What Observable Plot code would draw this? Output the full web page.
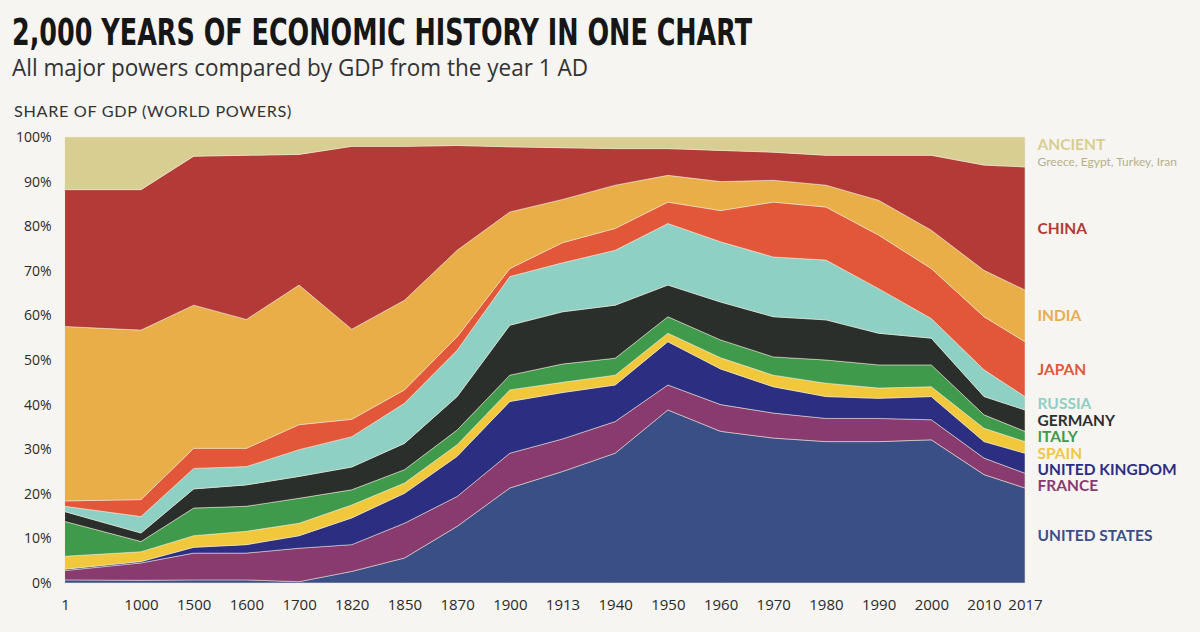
<!DOCTYPE html>
<html>
<head>
<meta charset="utf-8">
<script src="https://cdn.jsdelivr.net/npm/d3@7"></script>
<script src="https://cdn.jsdelivr.net/npm/@observablehq/plot@0.6"></script>
<style>
  html, body { margin: 0; padding: 0; background: #f6f5f1; width: 1200px; height: 632px; overflow: hidden; }
  #header { position: relative; height: 125px; }
  #title { position: absolute; left: 12px; top: 17px; font-family: "Liberation Sans Narrow", "DejaVu Sans Condensed", "Liberation Sans", sans-serif; font-weight: bold; font-size: 37px; line-height: 32px; color: #161616; white-space: nowrap; transform-origin: 0 0; }
  #subtitle { position: absolute; left: 12px; top: 57px; font-family: "Open Sans", sans-serif; font-size: 23px; line-height: 21px; color: #333; white-space: nowrap; transform-origin: 0 0; }
  #ylabel { position: absolute; left: 14px; top: 104px; font-family: Lato, "Open Sans", sans-serif; font-size: 15px; line-height: 15px; letter-spacing: 0.6px; color: #333; white-space: nowrap; transform-origin: 0 0; }
  #chart svg { display: block; }
</style>
</head>
<body>
<div id="header">
  <div id="title">2,000 YEARS OF ECONOMIC HISTORY IN ONE CHART</div>
  <div id="subtitle">All major powers compared by GDP from the year 1 AD</div>
  <div id="ylabel">SHARE OF GDP (WORLD POWERS)</div>
</div>
<div id="chart"></div>
<script>
// ---- data (share of world-power GDP, %) ----
const years = [1, 1000, 1500, 1600, 1700, 1820, 1850, 1870, 1900, 1913, 1940, 1950, 1960, 1970, 1980, 1990, 2000, 2010, 2017];
const countries = ["United States", "France", "United Kingdom", "Spain", "Italy", "Germany", "Russia", "Japan", "India", "China", "Ancient"];
const unitedStates  = [0.7, 0.6, 0.7, 0.7, 0.3, 2.6, 5.6, 12.7, 21.3, 25.0, 29.1, 38.8, 34.0, 32.5, 31.7, 31.7, 32.1, 24.3, 21.3];
const france        = [2.1, 3.9, 6.0, 6.0, 7.5, 6.0, 7.8, 6.7, 7.8, 7.3, 7.1, 5.6, 6.0, 5.6, 5.2, 5.2, 4.5, 3.7, 3.3];
const unitedKingdom = [0.3, 0.3, 1.3, 1.9, 2.8, 6.0, 6.7, 9.0, 11.6, 10.4, 8.2, 9.7, 8.0, 5.9, 4.9, 4.5, 5.2, 3.7, 4.5];
const spain         = [2.9, 2.2, 2.6, 3.0, 2.8, 2.9, 2.3, 2.6, 2.6, 2.3, 2.2, 1.9, 2.5, 2.6, 3.0, 2.3, 2.2, 3.0, 2.6];
const italy         = [7.8, 2.3, 6.2, 5.6, 5.6, 3.4, 3.0, 3.3, 3.3, 4.1, 3.8, 3.7, 4.0, 4.1, 5.2, 5.2, 4.9, 3.0, 2.3];
const germany       = [2.2, 1.9, 4.3, 4.8, 4.9, 5.1, 5.9, 7.5, 11.2, 11.7, 11.9, 7.1, 8.5, 9.0, 9.0, 7.1, 6.0, 4.1, 4.8];
const russia        = [1.2, 3.7, 4.6, 4.1, 6.0, 6.8, 9.0, 10.4, 10.9, 11.0, 12.3, 13.8, 13.5, 13.4, 13.4, 10.0, 4.4, 6.0, 3.0];
const japan         = [1.2, 3.8, 4.5, 4.1, 5.6, 3.9, 3.0, 3.0, 1.8, 4.5, 4.9, 4.8, 7.0, 12.3, 11.9, 12.0, 11.2, 11.9, 12.3];
const india         = [39.1, 38.0, 32.1, 28.9, 31.3, 20.2, 20.1, 19.4, 12.7, 9.7, 9.7, 6.0, 6.5, 4.9, 4.9, 7.8, 8.6, 10.4, 11.6];
const china         = [30.7, 31.5, 33.4, 36.8, 29.3, 41.0, 34.5, 23.5, 14.6, 11.6, 8.2, 6.0, 7.0, 6.3, 6.7, 10.1, 16.8, 23.6, 27.6];
const ancient       = [11.8, 11.8, 4.3, 4.1, 3.9, 2.1, 2.1, 1.9, 2.2, 2.4, 2.6, 2.6, 3.0, 3.4, 4.1, 4.1, 4.1, 6.3, 6.7];
const ancientNote = "Greece, Egypt, Turkey, Iran";
const yTicks = [0, 10, 20, 30, 40, 50, 60, 70, 80, 90, 100];

// ---- build long table ----
const series = [unitedStates, france, unitedKingdom, spain, italy, germany, russia, japan, india, china, ancient];
const table = [];
countries.forEach((c, k) => series[k].forEach((v, i) => table.push({country: c, i, year: years[i], share: v})));

// ---- end labels: band midpoints at last year, pushed apart top-down ----
const last = years.length - 1;
let cum = 0;
const mids = series.map(s => { const lo = cum; cum += s[last]; return (lo + cum) / 2; });
const labelY = mids.slice();
for (let k = countries.length - 2; k >= 0; k--) labelY[k] = Math.min(labelY[k], labelY[k + 1] - 3.65);
const labels = countries.map((c, k) => ({country: c, label: c.toUpperCase(), y: labelY[k]}));

const colors = ["#3b4f87", "#893b70", "#2c2e82", "#f1c83c", "#409a4b", "#2a2f2b", "#8fd0c5", "#e2563a", "#e9ae48", "#b33a37", "#d8ce92"];
const labelFont = "Lato, 'Open Sans', sans-serif";

const chart = Plot.plot({
  width: 1200,
  height: 507,
  marginTop: 12,
  marginBottom: 49,
  marginLeft: 65,
  marginRight: 175,
  style: {background: "transparent", fontFamily: "'Open Sans', sans-serif", color: "#2a2a2a"},
  x: {type: "linear", domain: [0, 1, last - 1, last], range: [65, 141, 984, 1025]},
  y: {domain: [0, 100]},
  color: {domain: countries, range: colors},
  marks: [
    Plot.areaY(table, {x: "i", y: "share", z: "country", fill: "country", stroke: "#efe9d8", strokeWidth: 0.7, strokeOpacity: 0.75}),
    Plot.axisX({ticks: years.map((d, i) => i), tickFormat: i => String(years[i]), tickSize: 0, tickPadding: 16, fontSize: 15, label: null}),
    Plot.axisY({ticks: yTicks, tickFormat: d => d + "%", tickSize: 0, tickPadding: 14, fontSize: 14, label: null}),
    Plot.text(labels.filter(d => d.country !== "Ancient"), {x: () => last, y: "y", text: "label", fill: "country", dx: 12, textAnchor: "start",
      fontWeight: "bold", fontSize: 15.5, fontFamily: labelFont}),
    Plot.text(labels.filter(d => d.country === "Ancient"), {x: () => last, y: "y", text: "label", fill: "country", dx: 12, dy: -7, textAnchor: "start",
      fontWeight: "bold", fontSize: 15.5, fontFamily: labelFont}),
    Plot.text(labels.filter(d => d.country === "Ancient"), {x: () => last, y: "y", text: () => ancientNote, fill: "#b8b08a", dx: 12, dy: 10, textAnchor: "start",
      fontSize: 12, fontFamily: labelFont})
  ]
});
document.getElementById("chart").appendChild(chart);

// fit header lines to the reference widths
function fit(id, w) {
  const el = document.getElementById(id);
  const cw = el.getBoundingClientRect().width;
  if (cw > 0) el.style.transform = `scaleX(${w / cw})`;
}
fit("title", 740);
fit("subtitle", 576);
fit("ylabel", 278);
</script>
</body>
</html>
